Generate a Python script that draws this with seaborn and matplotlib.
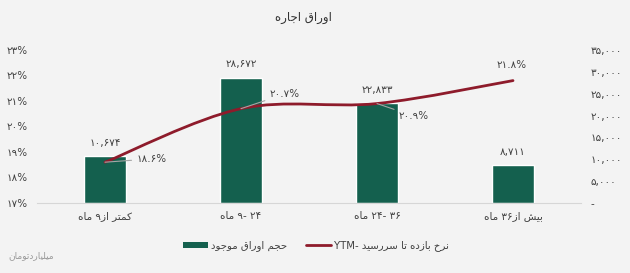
import re
import matplotlib
matplotlib.use("Agg")
import matplotlib.pyplot as plt
import seaborn as sns
import pandas as pd
from matplotlib.path import Path
from matplotlib.patches import PathPatch, Patch
from matplotlib.lines import Line2D

# ---------------- data ----------------
categories = ["کمتر از۹ ماه", "۲۴ -۹ ماه", "۳۶ -۲۴ ماه", "بیش از۳۶ ماه"]
volume = [10674, 28672, 22833, 8711]          # حجم اوراق موجود (میلیارد تومان)
ytm = [18.6, 20.7, 20.9, 21.8]                # نرخ بازده تا سررسید (%)
left_ticks = [17, 18, 19, 20, 21, 22, 23]
right_ticks = [0, 5000, 10000, 15000, 20000, 25000, 30000, 35000]
title_text = "اوراق اجاره"
legend_bar_text = "حجم اوراق موجود"
legend_line_text = "نرخ بازده تا سررسید -YTM"
unit_text = "میلیاردتومان"

# ---------------- simple Persian shaping ----------------
FORMS = {
    'ا': ('\uFE8D', '\uFE8E', None, None),
    'آ': ('\uFE81', '\uFE82', None, None),
    'ب': ('\uFE8F', '\uFE90', '\uFE91', '\uFE92'),
    'پ': ('\uFB56', '\uFB57', '\uFB58', '\uFB59'),
    'ت': ('\uFE95', '\uFE96', '\uFE97', '\uFE98'),
    'ث': ('\uFE99', '\uFE9A', '\uFE9B', '\uFE9C'),
    'ج': ('\uFE9D', '\uFE9E', '\uFE9F', '\uFEA0'),
    'چ': ('\uFB7A', '\uFB7B', '\uFB7C', '\uFB7D'),
    'ح': ('\uFEA1', '\uFEA2', '\uFEA3', '\uFEA4'),
    'خ': ('\uFEA5', '\uFEA6', '\uFEA7', '\uFEA8'),
    'د': ('\uFEA9', '\uFEAA', None, None),
    'ذ': ('\uFEAB', '\uFEAC', None, None),
    'ر': ('\uFEAD', '\uFEAE', None, None),
    'ز': ('\uFEAF', '\uFEB0', None, None),
    'ژ': ('\uFB8A', '\uFB8B', None, None),
    'س': ('\uFEB1', '\uFEB2', '\uFEB3', '\uFEB4'),
    'ش': ('\uFEB5', '\uFEB6', '\uFEB7', '\uFEB8'),
    'ص': ('\uFEB9', '\uFEBA', '\uFEBB', '\uFEBC'),
    'ض': ('\uFEBD', '\uFEBE', '\uFEBF', '\uFEC0'),
    'ط': ('\uFEC1', '\uFEC2', '\uFEC3', '\uFEC4'),
    'ظ': ('\uFEC5', '\uFEC6', '\uFEC7', '\uFEC8'),
    'ع': ('\uFEC9', '\uFECA', '\uFECB', '\uFECC'),
    'غ': ('\uFECD', '\uFECE', '\uFECF', '\uFED0'),
    'ف': ('\uFED1', '\uFED2', '\uFED3', '\uFED4'),
    'ق': ('\uFED5', '\uFED6', '\uFED7', '\uFED8'),
    'ک': ('\uFB8E', '\uFB8F', '\uFB90', '\uFB91'),
    'گ': ('\uFB92', '\uFB93', '\uFB94', '\uFB95'),
    'ل': ('\uFEDD', '\uFEDE', '\uFEDF', '\uFEE0'),
    'م': ('\uFEE1', '\uFEE2', '\uFEE3', '\uFEE4'),
    'ن': ('\uFEE5', '\uFEE6', '\uFEE7', '\uFEE8'),
    'و': ('\uFEED', '\uFEEE', None, None),
    'ه': ('\uFEE9', '\uFEEA', '\uFEEB', '\uFEEC'),
    'ی': ('\uFBFC', '\uFBFD', '\uFBFE', '\uFBFF'),
}


def shape(s):
    out = []
    for i, c in enumerate(s):
        if c not in FORMS:
            out.append(c)
            continue
        prev = s[i - 1] if i > 0 else None
        nxt = s[i + 1] if i + 1 < len(s) else None
        jp = prev in FORMS and FORMS[prev][2] is not None
        jn = FORMS[c][2] is not None and nxt in FORMS
        f = FORMS[c]
        if jp and jn:
            out.append(f[3])
        elif jp:
            out.append(f[1])
        elif jn:
            out.append(f[2])
        else:
            out.append(f[0])
    return "".join(out)


def fa(s):
    rev = shape(s)[::-1]
    return re.sub(r'[0-9\u06F0-\u06F9A-Za-z.,%]+', lambda m: m.group(0)[::-1], rev)


PD = str.maketrans("0123456789", "۰۱۲۳۴۵۶۷۸۹")


def pnum(v):
    return f"{v:,}".translate(PD)


# ---------------- style ----------------
sns.set_theme(style="white")
plt.rcParams['font.family'] = ['DejaVu Sans']
BG = "#f3f3f3"
GREEN = "#14604e"
RED = "#8e1b2b"
TXT = "#404040"

fig = plt.figure(figsize=(6.3, 2.73), dpi=100, facecolor=BG)
ax = fig.add_axes([37 / 630, 70 / 273, 544 / 630, 153 / 273])
ax.set_facecolor("none")
ax2 = ax.twinx()

df = pd.DataFrame({"cat": [fa(c) for c in categories], "vol": volume})
sns.barplot(data=df, x="cat", y="vol", ax=ax, color=GREEN, saturation=1,
            width=0.316, errorbar=None)
ax.set_xlim(-0.5, 3.5)
ax.set_ylim(0, 35000)
ax.set_xlabel("")
ax.set_ylabel("")
ax.yaxis.tick_right()
ax.set_yticks(right_ticks)
ax.set_yticklabels([pnum(v) if v else "-" for v in right_ticks])
ax.tick_params(axis="y", length=0, pad=7, labelsize=7.5, labelcolor=TXT)
ax.tick_params(axis="x", length=0, pad=5.5, labelsize=7.5, labelcolor=TXT)
for sp in ["top", "left", "right"]:
    ax.spines[sp].set_visible(False)
ax.spines["bottom"].set_color("#d6d6d6")
ax.spines["bottom"].set_linewidth(0.8)

for i, v in enumerate(volume):
    ax.annotate(pnum(v), xy=(i, v), xytext=(0, 6), textcoords="offset points",
                ha="center", va="bottom", fontsize=7.5, color=TXT)

ax2.set_ylim(17, 23)
ax2.yaxis.tick_left()
ax2.set_yticks(left_ticks)
ax2.set_yticklabels([f"{t}%".translate(PD) for t in left_ticks])
ax2.tick_params(axis="y", length=0, pad=7, labelsize=7.5, labelcolor=TXT)
for sp in ax2.spines.values():
    sp.set_visible(False)

# smoothed line through the YTM points (cubic Bezier, Catmull-Rom tangents)
pts = list(zip(range(len(ytm)), ytm))
verts = [pts[0]]
codes = [Path.MOVETO]
n = len(pts)
for i in range(n - 1):
    p0 = pts[i - 1] if i > 0 else pts[i]
    p1 = pts[i]
    p2 = pts[i + 1]
    p3 = pts[i + 2] if i + 2 < n else pts[i + 1]
    c1 = (p1[0] + (p2[0] - p0[0]) / 6, p1[1] + (p2[1] - p0[1]) / 6)
    c2 = (p2[0] - (p3[0] - p1[0]) / 6, p2[1] - (p3[1] - p1[1]) / 6)
    verts += [c1, c2, p2]
    codes += [Path.CURVE4] * 3
ax2.add_patch(PathPatch(Path(verts, codes), fill=False, edgecolor=RED,
                        lw=2, capstyle="round", zorder=3))

label_pos = [(0.34, 18.73), (1.32, 21.27), (2.27, 20.41), (2.99, 22.41)]
for i, (v, (lx, ly)) in enumerate(zip(ytm, label_pos)):
    arrow = None if i == len(ytm) - 1 else dict(arrowstyle="-", color="#a6a6a6",
                                                lw=0.8, shrinkA=1, shrinkB=0)
    ax2.annotate(f"{v:.1f}%".translate(PD), xy=(i, v), xytext=(lx, ly),
                 textcoords="data", ha="center", va="center", fontsize=7.5,
                 color=TXT, arrowprops=arrow, zorder=4)

handles = [Patch(facecolor=GREEN, edgecolor="none"),
           Line2D([0], [0], color=RED, lw=2)]
fig.legend(handles, [fa(legend_bar_text), fa(legend_line_text)], loc="center",
           bbox_to_anchor=(316 / 630, 1 - 246 / 273), ncol=2, frameon=False,
           fontsize=7.3, handlelength=2.5, handleheight=0.6, columnspacing=1.8,
           handletextpad=0.3, labelcolor=TXT)

fig.text(303 / 630, 1 - 18 / 273, fa(title_text), ha="center", va="center",
         fontsize=8.5, color="#333333")
fig.text(8 / 630, 1 - 256 / 273, fa(unit_text), ha="left", va="center",
         fontsize=6.5, color="#9a9a9a")

fig.savefig("out.png", dpi=100, facecolor=BG)
